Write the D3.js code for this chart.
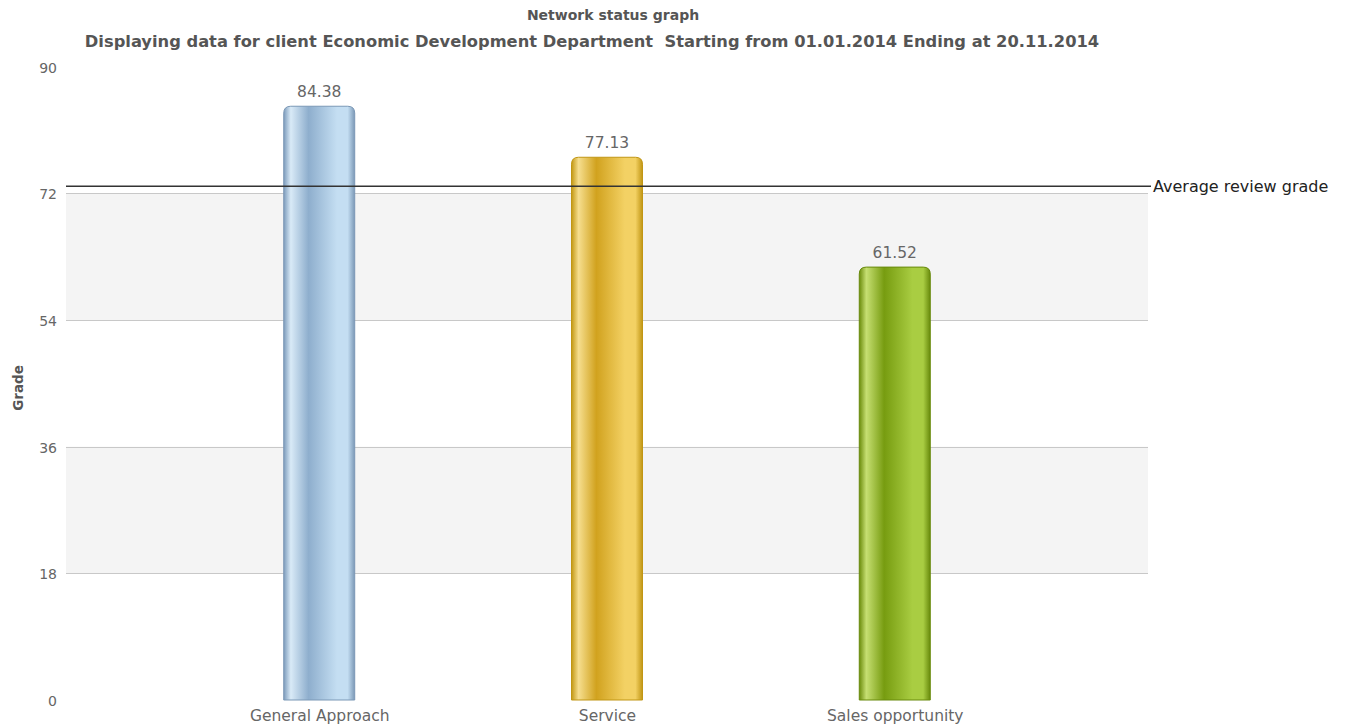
<!DOCTYPE html>
<html>
<head>
<meta charset="utf-8">
<script src="https://cdn.jsdelivr.net/npm/d3@7"></script>
<style>
  html, body { margin: 0; padding: 0; background: #fff; }
  svg { display: block; }
  text { font-family: "DejaVu Sans", Verdana, sans-serif; }
</style>
</head>
<body>
<svg id="chart" width="1347" height="727"></svg>
<script>
// Review grades per category
const categories = ["General Approach", "Service", "Sales opportunity"];
const grades = [84.38, 77.13, 61.52];
const averageGrade = 73.0;
const yTicks = [0, 18, 36, 54, 72, 90];
const barPalettes = [
  ["#7d9cbc", "#d9eaf7", "#8eaecd", "#c4def2", "#7b98b6"],
  ["#c39813", "#f6de8e", "#d1a21e", "#f3d164", "#c19614"],
  ["#6b8c0c", "#c6df72", "#779c10", "#a9cd42", "#688a0c"]
];
const titleText = "Network status graph";
const subtitleText = "Displaying data for client Economic Development Department  Starting from 01.01.2014 Ending at 20.11.2014";

const FONT = "DejaVu Sans, Verdana, sans-serif";
const svg = d3.select("#chart");
const plot = { left: 66, right: 1148, top: 66.7, bottom: 700 };

const y = d3.scaleLinear().domain([0, 90]).range([plot.bottom, plot.top]);
const x = d3.scalePoint().domain(categories).range([plot.left, plot.right]).padding(0.88);
const barWidth = 71;

// Alternating bands
const bandPairs = d3.pairs(yTicks);
svg.append("g").selectAll("rect")
  .data(bandPairs.filter((d, i) => i % 2 === 1))
  .join("rect")
  .attr("x", plot.left)
  .attr("width", plot.right - plot.left)
  .attr("y", d => y(d[1]))
  .attr("height", d => y(d[0]) - y(d[1]))
  .attr("fill", "#f4f4f4");

// Grid lines
svg.append("g").selectAll("line")
  .data(yTicks.filter(t => t > 0 && t < 90))
  .join("line")
  .attr("x1", plot.left).attr("x2", plot.right)
  .attr("y1", d => Math.round(y(d)) + 0.5).attr("y2", d => Math.round(y(d)) + 0.5)
  .attr("stroke", "#c8c8c8").attr("stroke-width", 1);

// Y axis tick labels
const yAxis = d3.axisLeft(y).tickValues(yTicks).tickSize(0).tickPadding(0);
const yg = svg.append("g").attr("transform", `translate(57,0)`).call(yAxis);
yg.select(".domain").remove();
yg.selectAll("text")
  .attr("font-size", 14)
  .attr("font-family", FONT)
  .attr("fill", "#666")
  .attr("dy", "0.4em");

// X axis labels
const xAxis = d3.axisBottom(x).tickSize(0).tickPadding(0);
const xg = svg.append("g").attr("transform", `translate(0,${plot.bottom})`).call(xAxis);
xg.select(".domain").remove();
xg.selectAll("text")
  .attr("font-size", 15.5)
  .attr("font-family", FONT)
  .attr("fill", "#666")
  .attr("dy", null)
  .attr("y", 21);

// Cylinder-like gradients
const defs = svg.append("defs");
barPalettes.forEach((p, i) => {
  const g = defs.append("linearGradient").attr("id", "bar" + i)
    .attr("x1", "0%").attr("x2", "100%").attr("y1", "0%").attr("y2", "0%");
  const stops = [[0, p[0]], [0.1, p[1]], [0.35, p[2]], [0.75, p[3]], [0.9, p[3]], [1, p[4]]];
  stops.forEach(s => g.append("stop").attr("offset", s[0]).attr("stop-color", s[1]));
});

// Bars with rounded tops
function barPath(cx, top, bottom, w, r) {
  const l = cx - w / 2, rt = cx + w / 2;
  return `M${l},${bottom}V${top + r}Q${l},${top} ${l + r},${top}H${rt - r}Q${rt},${top} ${rt},${top + r}V${bottom}Z`;
}
svg.append("g").selectAll("path")
  .data(grades)
  .join("path")
  .attr("d", (d, i) => barPath(x(categories[i]), y(d), y(0), barWidth, 7))
  .attr("fill", (d, i) => `url(#bar${i})`)
  .attr("stroke", (d, i) => barPalettes[i][4])
  .attr("stroke-width", 1);

// Value labels
svg.append("g").selectAll("text")
  .data(grades)
  .join("text")
  .attr("x", (d, i) => x(categories[i]))
  .attr("y", d => y(d) - 9)
  .attr("text-anchor", "middle")
  .attr("font-size", 15.5)
  .attr("fill", "#666")
  .text(d => d.toFixed(2));

// Average line
svg.append("line")
  .attr("x1", plot.left).attr("x2", plot.right + 3)
  .attr("y1", y(averageGrade)).attr("y2", y(averageGrade))
  .attr("stroke", "#333").attr("stroke-width", 1.5);
svg.append("text")
  .attr("x", plot.right + 5)
  .attr("y", y(averageGrade))
  .attr("dy", "0.35em")
  .attr("font-size", 16)
  .attr("fill", "#222")
  .text("Average review grade");

// Titles
svg.append("text")
  .attr("x", 613).attr("y", 20)
  .attr("text-anchor", "middle")
  .attr("font-size", 14)
  .attr("font-weight", "bold")
  .attr("fill", "#555")
  .text(titleText);
svg.append("text")
  .attr("x", 592).attr("y", 47)
  .attr("text-anchor", "middle")
  .attr("font-size", 16.3)
  .attr("font-weight", "bold")
  .attr("fill", "#555")
  .style("white-space", "pre")
  .text(subtitleText);

// Y axis title
svg.append("text")
  .attr("transform", `translate(23,${388}) rotate(-90)`)
  .attr("text-anchor", "middle")
  .attr("font-size", 13.5)
  .attr("font-weight", "bold")
  .attr("fill", "#555")
  .text("Grade");
</script>
</body>
</html>
